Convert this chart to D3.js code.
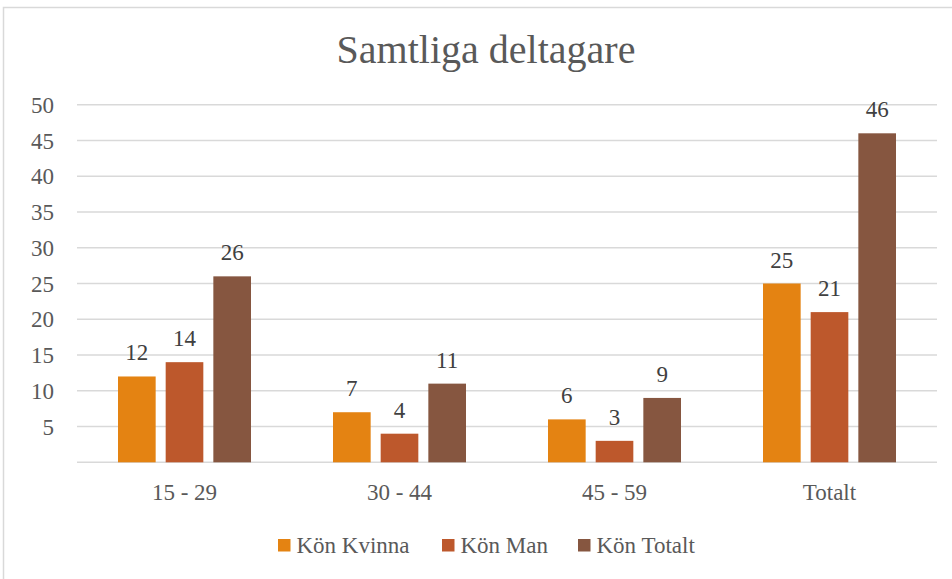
<!DOCTYPE html>
<html>
<head>
<meta charset="utf-8">
<script src="https://cdn.jsdelivr.net/npm/d3@7"></script>
<style>
  html, body { margin: 0; padding: 0; background: #fff; }
  svg { display: block; font-family: "Liberation Serif", "DejaVu Serif", serif; }
</style>
</head>
<body>
<div id="chart"></div>
<script>
// Chart data
const categories = ['15 - 29', '30 - 44', '45 - 59', 'Totalt'];
const seriesNames = ['Kön Kvinna', 'Kön Man', 'Kön Totalt'];
const kvinna = [12, 7, 6, 25];
const man = [14, 4, 3, 21];
const totalt = [26, 11, 9, 46];
const yTicks = [5, 10, 15, 20, 25, 30, 35, 40, 45, 50];

const colors = ['#E48312', '#BD582C', '#865640'];
const series = [kvinna, man, totalt];

const width = 952, height = 579;

const svg = d3.select('#chart').append('svg')
  .attr('width', width)
  .attr('height', height);

// Chart frame
svg.append('rect')
  .attr('x', 3.5).attr('y', 7.5)
  .attr('width', width).attr('height', height)
  .attr('fill', '#fff')
  .attr('stroke', '#d9d9d9')
  .attr('stroke-width', 1.5);

// Title
svg.append('text')
  .attr('x', 486).attr('y', 63)
  .attr('text-anchor', 'middle')
  .attr('fill', '#595959')
  .attr('font-size', 40)
  .text('Samtliga deltagare');

const plot = { left: 77, right: 937, top: 104.7, bottom: 462.3 };

const y = d3.scaleLinear().domain([0, 50]).range([plot.bottom, plot.top]);

const x0 = d3.scaleBand().domain(categories).range([plot.left, plot.right]).padding(0);
const inset = (x0.bandwidth() - 133) / 2;
const x1 = d3.scaleBand().domain(d3.range(series.length))
  .range([inset, x0.bandwidth() - inset])
  .paddingInner(0.21).paddingOuter(0);

// Gridlines
svg.append('g')
  .selectAll('line')
  .data([0, ...yTicks])
  .join('line')
  .attr('x1', plot.left).attr('x2', plot.right)
  .attr('y1', d => y(d)).attr('y2', d => y(d))
  .attr('stroke', '#d9d9d9')
  .attr('stroke-width', 1.5);

// Y tick labels
svg.append('g')
  .selectAll('text')
  .data(yTicks)
  .join('text')
  .attr('x', 54)
  .attr('y', d => y(d))
  .attr('dy', '0.35em')
  .attr('text-anchor', 'end')
  .attr('fill', '#595959')
  .attr('font-size', 23)
  .text(d => d);

// Bars
const groups = svg.append('g')
  .selectAll('g')
  .data(categories)
  .join('g')
  .attr('transform', d => `translate(${x0(d)},0)`);

groups.selectAll('rect')
  .data((c, i) => series.map((s, k) => ({ k, v: s[i] })))
  .join('rect')
  .attr('x', d => x1(d.k))
  .attr('width', x1.bandwidth())
  .attr('y', d => y(d.v))
  .attr('height', d => y(0) - y(d.v))
  .attr('fill', d => colors[d.k]);

// Data labels
groups.selectAll('text')
  .data((c, i) => series.map((s, k) => ({ k, v: s[i] })))
  .join('text')
  .attr('x', d => x1(d.k) + x1.bandwidth() / 2)
  .attr('y', d => y(d.v) - 16)
  .attr('text-anchor', 'middle')
  .attr('fill', '#404040')
  .attr('font-size', 23)
  .text(d => d.v);

// Category labels
svg.append('g')
  .selectAll('text')
  .data(categories)
  .join('text')
  .attr('x', d => x0(d) + x0.bandwidth() / 2)
  .attr('y', 500)
  .attr('text-anchor', 'middle')
  .attr('fill', '#595959')
  .attr('font-size', 23)
  .text(d => d);

// Legend
const legendX = [278, 442, 578];
const legend = svg.append('g')
  .selectAll('g')
  .data(seriesNames)
  .join('g')
  .attr('transform', (d, i) => `translate(${legendX[i]},539)`);

legend.append('rect')
  .attr('width', 12.5).attr('height', 12.5)
  .attr('fill', (d, i) => colors[i]);

legend.append('text')
  .attr('x', 18.5)
  .attr('y', 14)
  .attr('fill', '#595959')
  .attr('font-size', 23)
  .text(d => d);
</script>
</body>
</html>
